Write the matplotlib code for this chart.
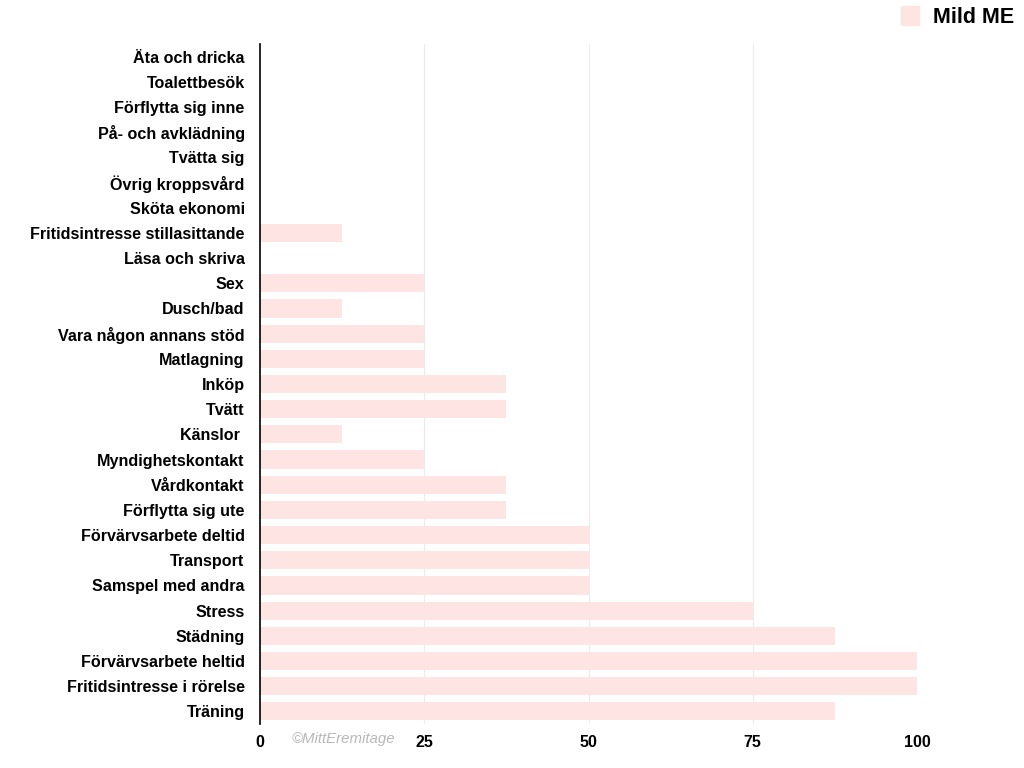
import matplotlib
matplotlib.use("Agg")
import matplotlib.pyplot as plt
from matplotlib.patches import Patch

categories = [
    "Äta och dricka", "Toalettbesök", "Förflytta sig inne", "På- och avklädning",
    "Tvätta sig", "Övrig kroppsvård", "Sköta ekonomi", "Fritidsintresse stillasittande",
    "Läsa och skriva", "Sex", "Dusch/bad", "Vara någon annans stöd", "Matlagning",
    "Inköp", "Tvätt", "Känslor ", "Myndighetskontakt", "Vårdkontakt",
    "Förflytta sig ute", "Förvärvsarbete deltid", "Transport", "Samspel med andra",
    "Stress", "Städning", "Förvärvsarbete heltid", "Fritidsintresse i rörelse", "Träning",
]
mild_me = [0, 0, 0, 0, 0, 0, 0, 12.5, 0, 25, 12.5, 25, 25, 37.5, 37.5, 12.5, 25,
           37.5, 37.5, 50, 50, 50, 75, 87.5, 100, 100, 87.5]
xticks = [0, 25, 50, 75, 100]
series_name = "Mild ME"

plt.rcParams['font.family'] = ['Liberation Sans', 'DejaVu Sans']
fig = plt.figure(figsize=(10.24, 7.68), dpi=100)
ax = fig.add_axes([260/1024, 1-724/768, (917-260)/1024, (724-44)/768])

y = list(range(len(categories)))
ax.barh(y, mild_me, height=0.72, color="#FFE4E4", zorder=2)
ax.set_ylim(len(categories)-0.5, -0.5)
ax.set_xlim(0, 100)
ax.set_yticks(y)
ax.set_yticklabels(categories, fontsize=11.6, fontweight='bold')
ax.set_xticks(xticks)
ax.set_xticklabels([str(t) for t in xticks], fontsize=11.5, fontweight='bold')
ax.tick_params(axis='both', length=0)
ax.tick_params(axis='x', pad=8)
ax.tick_params(axis='y', pad=11)
for t in xticks[1:-1]:
    ax.axvline(t, color="#EBEBEB", lw=0.8, zorder=1)
for s in ['top', 'right', 'bottom']:
    ax.spines[s].set_visible(False)
ax.spines['left'].set_color('black')
ax.spines['left'].set_linewidth(1.2)

fig.legend(handles=[Patch(color="#FFE4E4")], labels=[series_name],
           loc='upper right', bbox_to_anchor=(1014/1024, 1-6/768), frameon=False,
           prop={'size': 15.5, 'weight': 'bold'}, handlelength=0.85, handleheight=1.0,
           handletextpad=0.65, borderaxespad=0.0, borderpad=0.0)

fig.text(292/1024, 1-739/768, "©MittEremitage", fontsize=10.8, style='italic',
         color="#B8B8B8", va='center', ha='left')

fig.savefig("out.png", dpi=100)
